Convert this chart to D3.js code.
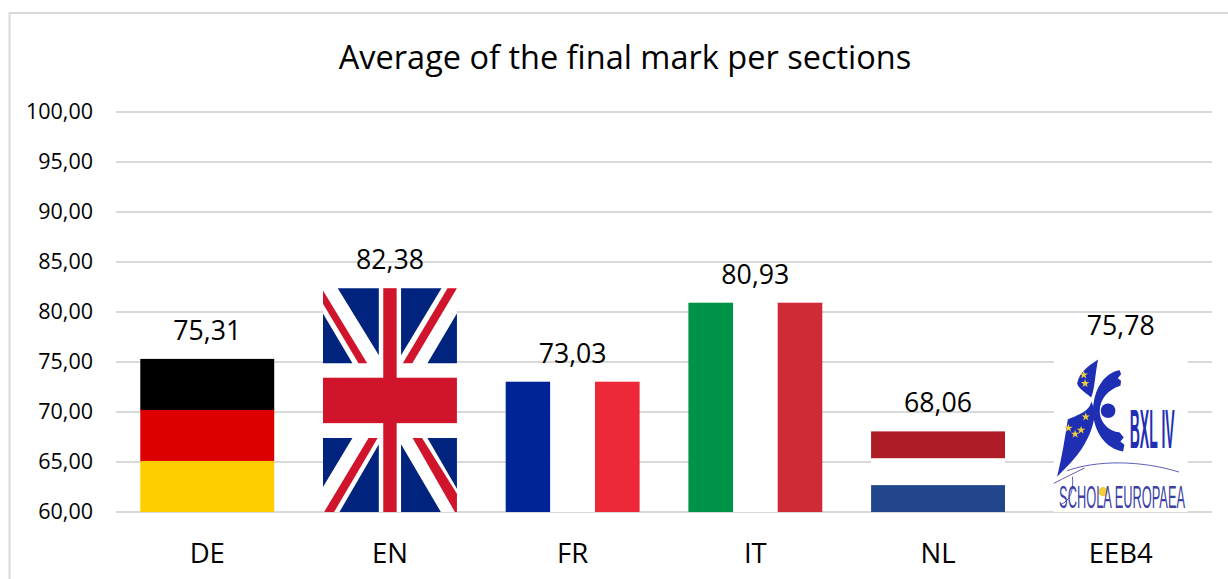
<!DOCTYPE html>
<html>
<head>
<meta charset="utf-8">
<script src="https://cdn.jsdelivr.net/npm/d3@7"></script>
<style>
  body { margin: 0; background: #fff; }
  svg { display: block; font-family: "Open Sans", sans-serif; fill: #000; }
</style>
</head>
<body>
<div id="chart"></div>
<script>
// values
const sections = ["DE", "EN", "FR", "IT", "NL", "EEB4"];
const marks = [75.31, 82.38, 73.03, 80.93, 68.06, 75.78];
const yTicks = [60, 65, 70, 75, 80, 85, 90, 95, 100];
const chartTitle = "Average of the final mark per sections";

const width = 1228, height = 579;
const margin = { top: 112, right: 16, bottom: 67, left: 116 };
const innerW = width - margin.left - margin.right;
const innerH = height - margin.top - margin.bottom;

const svg = d3.select("#chart").append("svg")
  .attr("width", width)
  .attr("height", height);

// outer chart frame, runs off the right and bottom of the crop
svg.append("path")
  .attr("d", `M9.5,${height}V13H${width}`)
  .attr("fill", "none")
  .attr("stroke", "#d9d9d9")
  .attr("stroke-width", 2);

svg.append("text")
  .attr("x", 625)
  .attr("y", 69)
  .attr("text-anchor", "middle")
  .attr("font-size", 32.5)
  .text(chartTitle);

const g = svg.append("g")
  .attr("transform", `translate(${margin.left},${margin.top})`);

const x = d3.scaleBand()
  .domain(sections)
  .range([0, innerW])
  .paddingInner(0.267)
  .paddingOuter(0.133);

const y = d3.scaleLinear()
  .domain([60, 100])
  .range([innerH, 0]);

const fmt = d => d3.format(".2f")(d).replace(".", ",");

const yAxis = g.append("g")
  .call(d3.axisLeft(y).tickValues(yTicks).tickFormat(fmt).tickSize(-innerW).tickPadding(23).offset(0));
yAxis.select(".domain").remove();
yAxis.selectAll("line").attr("stroke", "#d9d9d9").attr("stroke-width", 2);
yAxis.selectAll("text").attr("font-size", 21.5).attr("fill", "#000").attr("font-family", "Open Sans");

const xAxis = g.append("g")
  .attr("transform", `translate(0,${innerH})`)
  .call(d3.axisBottom(x).tickSize(0).tickPadding(31));
xAxis.select(".domain").remove();
xAxis.selectAll("text").attr("font-size", 27.5).attr("fill", "#000").attr("font-family", "Open Sans");

// flag helpers, everything is a fraction of the bar box
function stripesH(sel, w, h, cols) {
  cols.forEach((c, i) => {
    sel.append("rect")
      .attr("y", h * i / cols.length)
      .attr("width", w)
      .attr("height", h / cols.length + (i < cols.length - 1 ? 0.5 : 0))
      .attr("fill", c);
  });
}

function stripesV(sel, w, h, cols) {
  cols.forEach((c, i) => {
    sel.append("rect")
      .attr("x", w * i / cols.length)
      .attr("width", w / cols.length)
      .attr("height", h)
      .attr("fill", c);
  });
}

function poly(sel, w, h, pts, col) {
  sel.append("polygon")
    .attr("points", pts.map(p => `${p[0] * w},${p[1] * h}`).join(" "))
    .attr("fill", col);
}

function drawUnion(sel, w, h) {
  const blue = "#00247d", red = "#cf142b";
  sel.append("rect").attr("width", w).attr("height", h).attr("fill", "#fff");
  [
    [[0.11, 0], [0.417, 0], [0.417, 0.30]],
    [[0, 0.113], [0.22, 0.335], [0, 0.335]],
    [[0.583, 0], [0.885, 0], [0.583, 0.30]],
    [[1, 0.113], [0.78, 0.335], [1, 0.335]],
    [[0, 0.669], [0.22, 0.669], [0, 0.888]],
    [[0.417, 0.697], [0.417, 1], [0.123, 1]],
    [[0.583, 0.697], [0.583, 1], [0.88, 1]],
    [[0.78, 0.669], [1, 0.669], [1, 0.896]]
  ].forEach(t => poly(sel, w, h, t, blue));
  [
    [[0, 0.01], [0.33, 0.335], [0.265, 0.335], [0, 0.07]],
    [[0.93, 0], [1, 0], [0.667, 0.335], [0.596, 0.335]],
    [[0.34, 0.669], [0.408, 0.669], [0.083, 1], [0.008, 1]],
    [[0.669, 0.669], [0.74, 0.669], [1, 0.918], [1, 1], [0.985, 1]]
  ].forEach(t => poly(sel, w, h, t, red));
  sel.append("rect").attr("x", 0.45 * w).attr("width", 0.1 * w).attr("height", h).attr("fill", red);
  sel.append("rect").attr("y", 0.40 * h).attr("width", w).attr("height", 0.203 * h).attr("fill", red);
}

// school logo, drawn in a 402x474 box (3x the bar) and scaled to fit
function drawLogo(sel, w, h) {
  sel.append("rect").attr("width", w).attr("height", h).attr("fill", "#fff");
  const l = sel.append("g").attr("transform", `scale(${w / 402},${h / 474})`);
  const blue = "#1f2fb4", ink = "#3b3fa6", star = "#f2cf3a";

  // upper and lower sail
  l.append("path").attr("fill", blue)
    .attr("d", "M133,16C104,36 78,52 70,88C76,106 100,118 112,130C122,112 124,60 133,16Z");
  l.append("path").attr("fill", blue)
    .attr("d", "M112,142C110,170 74,182 42,196C34,250 24,310 10,368C42,336 80,300 102,252C116,226 122,194 124,176C122,164 118,152 112,142Z");
  // the big C with its hand ends
  l.append("path").attr("fill", blue)
    .attr("d", "M198,48C150,55 118,110 118,170C118,230 155,285 208,292L212,272L200,262L210,250L198,235C165,232 138,205 138,170C138,135 165,105 200,95L202,80L192,72L202,60Z");
  l.append("circle").attr("cx", 163).attr("cy", 170).attr("r", 22).attr("fill", blue);

  [[90, 62], [94, 88], [96, 188], [44, 222], [64, 240], [82, 228]].forEach(p => {
    l.append("path")
      .attr("transform", `translate(${p[0]},${p[1]})`)
      .attr("d", d3.symbol(d3.symbolStar, 200)())
      .attr("fill", star);
  });

  l.append("text")
    .attr("transform", "translate(228,283) scale(1,2)")
    .attr("font-family", "Liberation Sans")
    .attr("font-weight", 700)
    .attr("font-size", 83)
    .attr("textLength", 135)
    .attr("lengthAdjust", "spacingAndGlyphs")
    .attr("fill", blue)
    .text("BXL IV");

  // script line over the school name
  l.append("path").attr("fill", "none").attr("stroke", ink).attr("stroke-width", 2.5)
    .attr("d", "M40,350C130,318 260,318 376,354");
  l.append("path").attr("fill", "none").attr("stroke", ink).attr("stroke-width", 2.5)
    .attr("d", "M0,388C30,372 64,356 92,342M56,368C60,410 50,440 20,452");
  l.append("circle").attr("cx", 148).attr("cy", 413).attr("r", 14).attr("fill", star);
  l.append("text")
    .attr("transform", "translate(16,462) scale(1,2.4)")
    .attr("font-family", "Liberation Sans")
    .attr("font-size", 40)
    .attr("textLength", 378)
    .attr("lengthAdjust", "spacingAndGlyphs")
    .attr("fill", ink)
    .text("SCHOLA EUROPAEA");
}

const flagDraw = {
  DE: (s, w, h) => stripesH(s, w, h, ["#000000", "#dd0000", "#ffce00"]),
  EN: drawUnion,
  FR: (s, w, h) => stripesV(s, w, h, ["#002395", "#ffffff", "#ed2939"]),
  IT: (s, w, h) => stripesV(s, w, h, ["#009246", "#ffffff", "#ce2b37"]),
  NL: (s, w, h) => stripesH(s, w, h, ["#ae1c28", "#ffffff", "#21468b"]),
  EEB4: drawLogo
};

const bars = g.selectAll(".bar")
  .data(sections.map((s, i) => ({ section: s, mark: marks[i] })))
  .enter()
  .append("g")
  .attr("class", "bar")
  .attr("transform", d => `translate(${x(d.section)},${y(d.mark)})`);

bars.each(function (d) {
  flagDraw[d.section](d3.select(this), x.bandwidth(), innerH - y(d.mark));
});

g.selectAll(".label")
  .data(sections.map((s, i) => ({ section: s, mark: marks[i] })))
  .enter()
  .append("text")
  .attr("class", "label")
  .attr("x", d => x(d.section) + x.bandwidth() / 2)
  .attr("y", d => y(d.mark) - 19)
  .attr("text-anchor", "middle")
  .attr("font-size", 26.7)
  .text(d => fmt(d.mark));
</script>
</body>
</html>
